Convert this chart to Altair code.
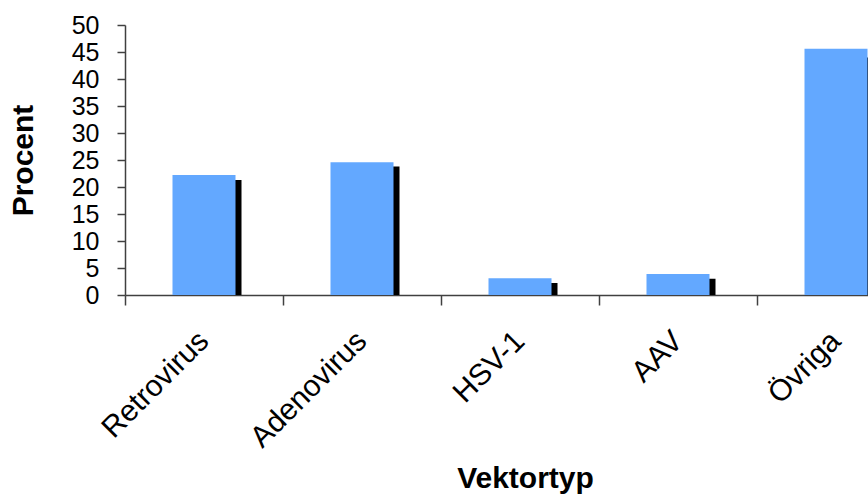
import altair as alt
import pandas as pd

categories = ["Retrovirus", "Adenovirus", "HSV-1", "AAV", "Övriga"]
series_front = [22.2, 24.6, 3.1, 3.9, 45.6]
series_back = [21.3, 23.8, 2.2, 3.0, 44.0]
y_ticks = [0, 5, 10, 15, 20, 25, 30, 35, 40, 45, 50]

df = pd.DataFrame({"Vektortyp": categories, "front": series_front, "back": series_back})

FONT = "Liberation Sans"

x_enc = alt.X(
    "Vektortyp:N",
    sort=categories,
    scale=alt.Scale(range=[0, 790], paddingInner=0, paddingOuter=0),
    axis=alt.Axis(
        title="Vektortyp",
        titleFont=FONT,
        titleFontSize=30,
        titleFontWeight="bold",
        titleColor="black",
        titleX=400,
        titleY=198,
        titleAnchor="middle",
        titleBaseline="bottom",
        bandPosition=0,
        labelAngle=-45,
        labelAlign="right",
        labelBaseline="middle",
        labelPadding=31,
        labelFont=FONT,
        labelFontSize=30,
        labelColor="black",
        labelOverlap=False,
        tickSize=10,
        tickColor="#404040",
        tickWidth=1.5,
        domainColor="#404040",
        domainWidth=1.5,
        grid=False,
    ),
)

y_scale = alt.Scale(domain=[0, 50], nice=False)

y_axis = alt.Axis(
    title="Procent",
    titleFont=FONT,
    titleFontSize=30,
    titleFontWeight="bold",
    titleColor="black",
    titleAngle=-90,
    titleX=-102,
    titleY=135,
    titleAlign="center",
    titleBaseline="middle",
    values=y_ticks,
    labelFont=FONT,
    labelFontSize=25,
    labelColor="black",
    labelPadding=18,
    labelOverlap=False,
    labelBound=False,
    labelFlush=False,
    tickSize=8,
    tickColor="#404040",
    tickWidth=1.5,
    domainColor="#404040",
    domainWidth=1.5,
    grid=False,
)

back = alt.Chart(df).mark_bar(color="black", width=63, xOffset=6, clip=True).encode(
    x=x_enc,
    y=alt.Y("back:Q", scale=y_scale, axis=y_axis),
)

front = alt.Chart(df).mark_bar(color="#63A8FF", width=63, clip=True).encode(
    x=x_enc,
    y=alt.Y("front:Q", scale=y_scale, axis=y_axis),
)

chart = (
    alt.layer(back, front)
    .properties(
        width=743,
        height=270,
        autosize=alt.AutoSizeParams(type="none"),
        padding={"left": 125, "top": 25, "right": 0, "bottom": 204},
        background="white",
    )
    .configure_view(stroke=None)
)

chart.save("out.html", embed_options={"renderer": "svg", "actions": False})
